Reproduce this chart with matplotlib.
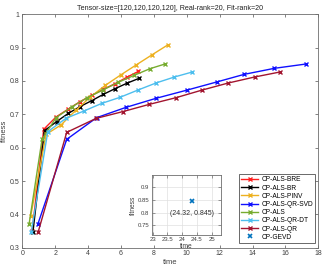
import matplotlib
matplotlib.use("Agg")
import matplotlib.pyplot as plt

plt.rcParams['font.family'] = ['Liberation Sans', 'DejaVu Sans']

title = "Tensor-size=[120,120,120,120], Real-rank=20, Fit-rank=20"

bre_t = [0.60, 1.30, 2.05, 2.80, 3.51, 4.22, 4.93, 5.64, 6.35, 7.06]
bre_f = [0.350, 0.655, 0.692, 0.716, 0.738, 0.757, 0.775, 0.792, 0.811, 0.829]

br_t = [0.65, 1.35, 2.08, 2.80, 3.50, 4.22, 4.93, 5.64, 6.35, 7.10]
br_f = [0.348, 0.651, 0.678, 0.703, 0.723, 0.741, 0.760, 0.777, 0.793, 0.808]

pinv_t = [0.51, 1.45, 2.35, 3.25, 4.14, 5.05, 5.98, 6.92, 7.87, 8.84]
pinv_f = [0.395, 0.640, 0.668, 0.712, 0.752, 0.787, 0.818, 0.848, 0.878, 0.908]

qrsvd_t = [0.94, 2.70, 4.52, 6.31, 8.13, 10.04, 11.82, 13.50, 15.33, 17.26]
qrsvd_f = [0.370, 0.625, 0.690, 0.721, 0.748, 0.773, 0.797, 0.820, 0.838, 0.851]

als_t = [0.41, 1.20, 2.05, 3.00, 3.95, 4.90, 5.84, 6.80, 7.77, 8.68]
als_f = [0.370, 0.625, 0.690, 0.722, 0.750, 0.773, 0.796, 0.817, 0.837, 0.851]

qrdt_t = [0.55, 1.55, 2.65, 3.75, 4.84, 5.94, 7.04, 8.13, 9.25, 10.34]
qrdt_f = [0.348, 0.648, 0.688, 0.710, 0.733, 0.751, 0.773, 0.794, 0.812, 0.827]

qr_t = [0.97, 2.70, 4.50, 6.10, 7.73, 9.35, 10.95, 12.53, 14.13, 15.67]
qr_f = [0.348, 0.646, 0.688, 0.708, 0.730, 0.750, 0.773, 0.794, 0.812, 0.827]

gevd_t = [24.32]
gevd_f = [0.845]

labels = ['CP-ALS-BRE', 'CP-ALS-BR', 'CP-ALS-PINV', 'CP-ALS-QR-SVD',
          'CP-ALS', 'CP-ALS-QR-DT', 'CP-ALS-QR', 'CP-GEVD']
colors = ['#ff1f1f', '#000000', '#EDB120', '#1010ff', '#77AC30', '#4DBEEE', '#A2142F', '#0072BD']

series = [(bre_t, bre_f), (br_t, br_f), (pinv_t, pinv_f), (qrsvd_t, qrsvd_f),
          (als_t, als_f), (qrdt_t, qrdt_f), (qr_t, qr_f)]

fig = plt.figure(figsize=(3.29, 2.70), dpi=100)
ax = fig.add_axes([0.0678, 0.0826, 0.8997, 0.8644])

axcol = '#6e6e6e'
for (t, f), c, lab in zip(series, colors, labels):
    ax.plot(t, f, color=c, lw=1.0, marker='x', ms=3, mew=1.0, label=lab)
ax.plot([], [], ls='none', marker='x', ms=3, mew=1.2, color=colors[7], label=labels[7])

ax.set_xlim(0, 18)
ax.set_ylim(0.3, 1.0)
ax.set_xticks(range(0, 19, 2))
ax.set_yticks([0.3, 0.4, 0.5, 0.6, 0.7, 0.8, 0.9, 1.0])
ax.set_yticklabels(['0.3', '0.4', '0.5', '0.6', '0.7', '0.8', '0.9', '1'])
ax.tick_params(direction='in', length=2.5, width=0.6, labelsize=5, colors=axcol,
               labelcolor='#404040', top=True, right=True, pad=2)
for s in ax.spines.values():
    s.set_color(axcol)
    s.set_linewidth(0.6)
ax.set_xlabel('time', fontsize=5.5, color='#404040', labelpad=1)
ax.set_ylabel('fitness', fontsize=5.5, color='#404040', labelpad=1)
ax.set_title(title, fontsize=5.1, color='#202020', pad=3)

leg = ax.legend(loc='lower right', bbox_to_anchor=(0.99, 0.021), fontsize=4.8,
                frameon=True, fancybox=False, edgecolor='#262626', handlelength=2.6,
                borderpad=0.3, labelspacing=0.18, handletextpad=0.5, borderaxespad=0)
leg.get_frame().set_linewidth(0.6)

# inset
axi = fig.add_axes([0.461, 0.130, 0.211, 0.222])
axi.plot(gevd_t, gevd_f, ls='none', marker='x', ms=3, mew=1.2, color=colors[7])
axi.annotate('(24.32, 0.845)', xy=(gevd_t[0], gevd_f[0]), xytext=(0, -9),
             textcoords='offset points', ha='center', va='center', fontsize=5, color='#303030')
axi.set_xlim(22.97, 25.32)
axi.set_ylim(0.713, 0.948)
axi.set_xticks([23, 23.5, 24, 24.5, 25])
axi.set_xticklabels(['23', '23.5', '24', '24.5', '25'])
axi.set_yticks([0.75, 0.8, 0.85, 0.9])
axi.set_yticklabels(['0.75', '0.8', '0.85', '0.9'])
axi.grid(True, color='#e0e0e0', lw=0.5)
axi.tick_params(direction='in', length=2, width=0.5, labelsize=4.3, colors=axcol,
                labelcolor='#404040', top=True, right=True, pad=1.5)
for s in axi.spines.values():
    s.set_color(axcol)
    s.set_linewidth(0.6)
axi.set_xlabel('time', fontsize=4.8, color='#404040', labelpad=1)
axi.set_ylabel('fitness', fontsize=4.8, color='#404040', labelpad=1)

fig.savefig('out.png', dpi=100)
